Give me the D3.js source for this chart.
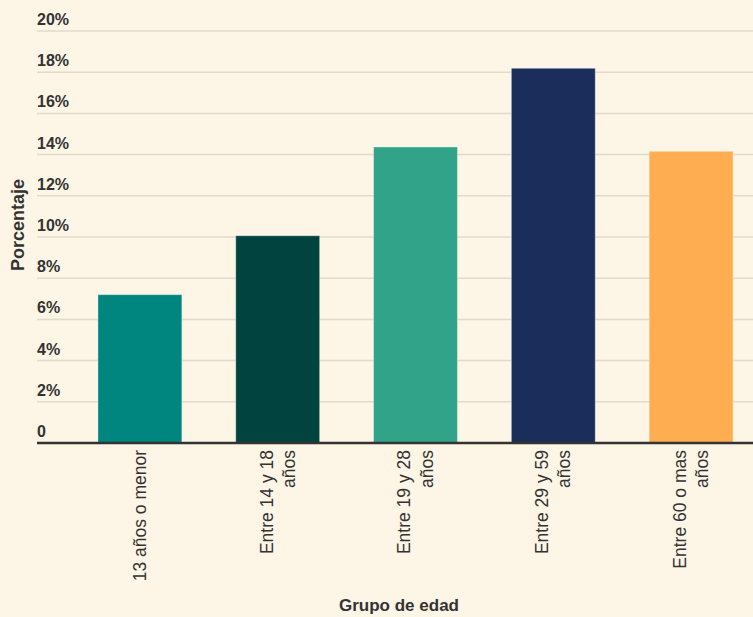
<!DOCTYPE html>
<html><head><meta charset="utf-8">
<script src="https://cdn.jsdelivr.net/npm/d3@7"></script>
<style>
html,body{margin:0;padding:0;background:#fdf5e5;}
svg{display:block;font-family:"Liberation Sans", Arial, sans-serif;}
</style></head>
<body>
<svg id="chart" width="753" height="617"></svg>
<script>
const categories = [["13 años o menor"], ["Entre 14 y 18", "años"], ["Entre 19 y 28", "años"], ["Entre 29 y 59", "años"], ["Entre 60 o mas", "años"]];
const values = [7.2, 10.06, 14.37, 18.19, 14.16];
const colors = ["#00857f", "#00433f", "#31a389", "#1b2d5b", "#ffad50"];
const yTicks = [0, 2, 4, 6, 8, 10, 12, 14, 16, 18, 20];

const svg = d3.select("#chart");
const W = 753, H = 617;
const left = 37, baseY = 443, topY = 31;

const keys = categories.map(c => c.join(" "));
const x = d3.scaleBand().domain(keys).range([71, 760]).paddingInner(0.3913).paddingOuter(0.1957);
const y = d3.scaleLinear().domain([0, 20]).range([baseY, topY]);

svg.append("rect").attr("width", W).attr("height", H).attr("fill", "#fdf5e5");

// gridlines
const grid = svg.append("g");
grid.selectAll("line").data(yTicks.filter(d => d > 0)).join("line")
  .attr("x1", left).attr("x2", W)
  .attr("y1", d => y(d)).attr("y2", d => y(d))
  .attr("stroke", "#e3dac8").attr("stroke-width", 1.5);

// y tick labels
svg.append("g").selectAll("text").data(yTicks).join("text")
  .attr("x", left).attr("y", d => y(d) - 6)
  .attr("font-size", 16).attr("font-weight", "bold").attr("fill", "#333")
  .text(d => d === 0 ? "0" : d + "%");

// bars
svg.append("g").selectAll("rect").data(values).join("rect")
  .attr("x", (d, i) => x(keys[i]))
  .attr("width", x.bandwidth())
  .attr("y", d => y(d))
  .attr("height", d => baseY - y(d))
  .attr("fill", (d, i) => colors[i])
  .attr("stroke", "rgba(255,255,255,0.35)").attr("stroke-width", 1);

// baseline axis
svg.append("line").attr("x1", left).attr("x2", W).attr("y1", baseY).attr("y2", baseY)
  .attr("stroke", "#333").attr("stroke-width", 2.5);

// x labels
const xl = svg.append("g");
categories.forEach((lines, i) => {
  const cx = x(keys[i]) + x.bandwidth() / 2;
  const n = lines.length;
  lines.forEach((t, j) => {
    const off = (j - (n - 1) / 2) * 22.4;
    xl.append("text")
      .attr("transform", `translate(${cx + off + 6},450) rotate(-90)`)
      .attr("text-anchor", "end")
      .attr("font-size", 17.5).attr("fill", "#333")
      .text(t);
  });
});

// axis titles
svg.append("text").attr("transform", "translate(24,225) rotate(-90)")
  .attr("text-anchor", "middle").attr("font-size", 18).attr("font-weight", "bold").attr("fill", "#333")
  .text("Porcentaje");
svg.append("text").attr("x", 399).attr("y", 611)
  .attr("text-anchor", "middle").attr("font-size", 17).attr("font-weight", "bold").attr("fill", "#333")
  .text("Grupo de edad");
</script>
</body></html>
